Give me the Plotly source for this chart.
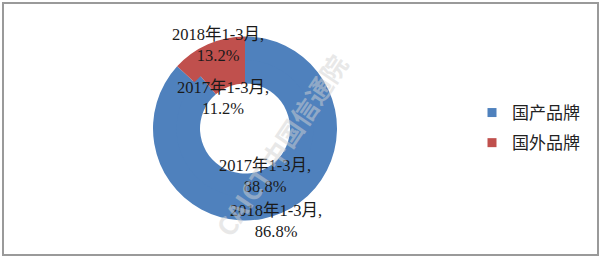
import plotly.graph_objects as go

# ---- data ----
brands = ["国产品牌", "国外品牌"]
share_2018 = [86.8, 13.2]   # outer ring: 2018年1-3月
share_2017 = [88.8, 11.2]   # inner ring: 2017年1-3月
period_2018 = "2018年1-3月"
period_2017 = "2017年1-3月"
colors = ["#4F81BD", "#C0504D"]

W, H = 601, 259
cx, cy = 245, 128.5      # donut centre (px from top-left)
r_out, r_mid, r_in = 92, 68.5, 45

def dom(r):
    return dict(x=[(cx - r) / W, (cx + r) / W],
                y=[(H - cy - r) / H, (H - cy + r) / H])

fig = go.Figure()
# inner ring first (slightly oversized so no seam shows under the outer ring)
r_inner_draw = r_mid + 2
fig.add_trace(go.Pie(
    labels=brands, values=share_2017, sort=False, direction="clockwise",
    rotation=0, hole=r_in / r_inner_draw, domain=dom(r_inner_draw),
    marker=dict(colors=colors, line=dict(width=0)),
    textinfo="none", hoverinfo="label+value", showlegend=False,
))
fig.add_trace(go.Pie(
    labels=brands, values=share_2018, sort=False, direction="clockwise",
    rotation=0, hole=r_mid / r_out, domain=dom(r_out),
    marker=dict(colors=colors, line=dict(width=0)),
    textinfo="none", hoverinfo="label+value", showlegend=False,
))
# legend entries (one group per brand for Excel-like spacing)
for name, col in zip(brands, colors):
    fig.add_trace(go.Scatter(
        x=[None], y=[None], mode="markers", name=name, legendgroup=name,
        marker=dict(symbol="square", size=9, color=col),
        showlegend=True, hoverinfo="skip",
    ))

font_fam = "Liberation Serif, Noto Sans CJK SC, serif"
# data labels (text from data, placed like the Excel labels)
label_pos = [
    (period_2018, share_2018[1], 218, 45),
    (period_2017, share_2017[1], 223, 98),
    (period_2017, share_2017[0], 265, 176),
    (period_2018, share_2018[0], 276, 221),
]
annotations = []
for per, v, x, y in label_pos:
    annotations.append(dict(
        x=x / W, y=1 - y / H, xref="paper", yref="paper",
        text=f"{per},<br>{v:.1f}%", showarrow=False,
        font=dict(family=font_fam, size=16.5, color="#1a1a1a"),
        align="center", xanchor="center", yanchor="middle",
    ))
# watermark
annotations.append(dict(
    x=280 / W, y=1 - 145 / H, xref="paper", yref="paper",
    text="<b>CAICT 中国信通院</b>", showarrow=False, textangle=-56,
    font=dict(family="Noto Sans CJK SC, sans-serif", size=26,
              color="rgba(210,210,210,0.5)"),
))

fig.update_layout(
    width=W, height=H,
    margin=dict(l=0, r=0, t=0, b=0),
    paper_bgcolor="white", plot_bgcolor="rgba(0,0,0,0)",
    xaxis=dict(visible=False), yaxis=dict(visible=False),
    legend=dict(x=472 / W, y=1 - 128 / H, xanchor="left", yanchor="middle",
                traceorder="grouped", tracegroupgap=5,
                font=dict(family="Noto Sans CJK SC, sans-serif", size=17, color="#222"),
                bgcolor="rgba(0,0,0,0)"),
    annotations=annotations,
    shapes=[dict(type="rect", xref="paper", yref="paper",
                 x0=3 / W, x1=(W - 3) / W, y0=4 / H, y1=1 - 3 / H,
                 line=dict(color="#9a9a9a", width=2))],
)
fig.write_html("out.html")
